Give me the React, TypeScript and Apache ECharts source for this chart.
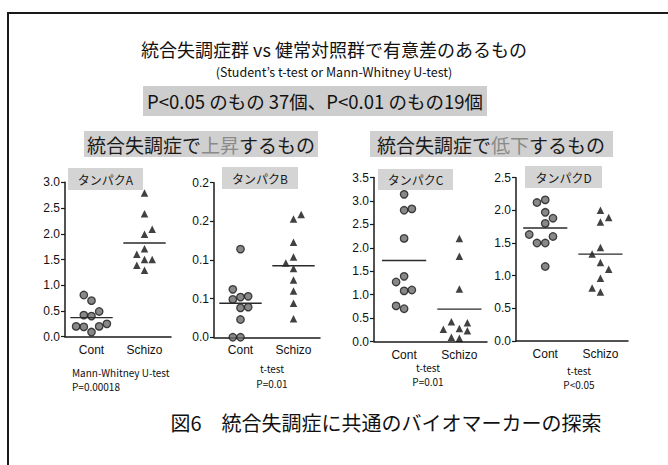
import React, { useEffect, useRef } from "react";
import * as echarts from "echarts";

// ---- data ----
const categories = ["Cont", "Schizo"];

const contA = [0.81, 0.70, 0.49, 0.42, 0.40, 0.20, 0.19, 0.09, 0.20, 0.25];
const contAJitter = [-0.145, 0, 0.145, -0.145, 0, -0.29, -0.145, 0, 0.145, 0.29];
const schizoA = [2.79, 2.39, 2.09, 1.99, 1.71, 1.60, 1.50, 1.50, 1.39, 1.29];
const schizoAJitter = [0, 0, 0.145, 0, 0, -0.145, 0, 0.145, -0.145, 0];
const meanA = [0.37, 1.82];
const yTicksA = ["0.0", "0.5", "1.0", "1.5", "2.0", "2.5", "3.0"];

const contB = [0.114, 0.062, 0.049, 0.052, 0.053, 0.038, 0.039, 0.023, 0.0, 0.0];
const contBJitter = [0, -0.145, -0.145, 0, 0.145, 0, 0.145, 0, -0.145, 0];
const schizoB = [0.159, 0.153, 0.123, 0.104, 0.096, 0.089, 0.074, 0.060, 0.044, 0.024];
const schizoBJitter = [0.145, 0, 0, 0, -0.145, 0, 0, 0, 0, 0];
const meanB = [0.044, 0.0926];
const yTicksB = ["0.0", "0.1", "0.1", "0.2", "0.2"];

const contC = [3.14, 2.80, 2.83, 2.20, 1.39, 1.27, 1.08, 1.10, 0.76, 0.70];
const contCJitter = [0, 0, 0.14, 0, 0, -0.145, 0, 0.14, -0.145, 0];
const schizoC = [2.20, 1.82, 1.12, 0.42, 0.40, 0.26, 0.28, 0.23, 0.09, 0.07];
const schizoCJitter = [0, 0, 0, -0.145, 0.145, -0.29, 0, 0.145, -0.145, 0];
const meanC = [1.73, 0.69];
const yTicksC = ["0.0", "0.5", "1.0", "1.5", "2.0", "2.5", "3.0", "3.5"];

const contD = [2.12, 2.16, 1.97, 1.88, 1.80, 1.63, 1.60, 1.50, 1.50, 1.14];
const contDJitter = [-0.15, 0, 0, 0.14, 0, -0.29, 0.14, -0.15, 0, 0];
const schizoD = [2.00, 1.89, 1.82, 1.43, 1.33, 1.20, 1.10, 0.96, 0.81, 0.75];
const schizoDJitter = [0, 0.15, 0, 0, -0.15, 0, 0.15, 0, -0.15, 0];
const meanD = [1.73, 1.33];
const yTicksD = ["0.0", "0.5", "1.0", "1.5", "2.0", "2.5"];

const yIntervals = [0.5, 0.05, 0.5, 0.5];
const proteinNames = ["タンパクA", "タンパクB", "タンパクC", "タンパクD"];
const testNames = ["Mann-Whitney U-test", "t-test", "t-test", "t-test"];
const pValues = ["P=0.00018", "P=0.01", "P=0.01", "P<0.05"];

const titleText = "統合失調症群 vs 健常対照群で有意差のあるもの";
const subtitleText = "(Student’s t-test or Mann-Whitney U-test)";
const countText = "P<0.05 のもの 37個、P<0.01 のもの19個";
const headingUp = ["統合失調症で", "上昇", "するもの"];
const headingDown = ["統合失調症で", "低下", "するもの"];
const footerText = "図6　統合失調症に共通のバイオマーカーの探索";

// ---- layout ----
const panelLayout = [
  { left: 65, top: 182.3, width: 106, height: 154.4, xMin: 0.5, xMax: 2.5 },
  { left: 214, top: 182.7, width: 106, height: 154.6, xMin: 0.5, xMax: 2.5 },
  { left: 374, top: 177.5, width: 113, height: 164, xMin: 0.455, xMax: 2.5 },
  { left: 516, top: 177.7, width: 112, height: 163.3, xMin: 0.47, xMax: 2.5 },
];
const labelBoxes = [
  { x: 68, y: 168, w: 75, h: 22 },
  { x: 222, y: 167, w: 76, h: 22 },
  { x: 378, y: 169, w: 75, h: 21 },
  { x: 525, y: 166, w: 77, h: 22 },
];
const testPos = [
  { x: 72, y1: 372, y2: 386, align: "left" },
  { x: 272, y1: 368, y2: 383, align: "center" },
  { x: 428, y1: 367, y2: 381, align: "center" },
  { x: 579, y1: 370, y2: 384, align: "center" },
];

const CJK = "'Noto Sans CJK JP', 'Noto Sans', sans-serif";
const LAT = "'Liberation Sans', Arial, sans-serif";
const MEAN_HALF = 0.4;

const panelData = [
  { c: contA, cj: contAJitter, s: schizoA, sj: schizoAJitter, m: meanA, t: yTicksA },
  { c: contB, cj: contBJitter, s: schizoB, sj: schizoBJitter, m: meanB, t: yTicksB },
  { c: contC, cj: contCJitter, s: schizoC, sj: schizoCJitter, m: meanC, t: yTicksC },
  { c: contD, cj: contDJitter, s: schizoD, sj: schizoDJitter, m: meanD, t: yTicksD },
];

export default function App() {
  const ref = useRef<HTMLDivElement>(null);

  useEffect(() => {
    if (!ref.current) return;
    const chart = echarts.init(ref.current, undefined, { renderer: "svg" });

    const grids: any[] = [];
    const xAxes: any[] = [];
    const yAxes: any[] = [];
    const series: any[] = [];

    panelData.forEach((p, i) => {
      const L = panelLayout[i];
      const interval = yIntervals[i];
      const max = (p.t.length - 1) * interval;
      grids.push({ left: L.left, top: L.top, width: L.width, height: L.height });
      xAxes.push({
        type: "value",
        gridIndex: i,
        min: L.xMin,
        max: L.xMax,
        axisLine: { show: true, onZero: false, lineStyle: { color: "#1a1a1a", width: 1.5 } },
        axisTick: { show: false },
        splitLine: { show: false },
        axisLabel: {
          customValues: [1, 2],
          formatter: (v: number) => categories[Math.round(v) - 1] ?? "",
          fontSize: 12,
          fontFamily: LAT,
          color: "#111",
          margin: 7,
        },
      });
      yAxes.push({
        type: "value",
        gridIndex: i,
        min: 0,
        max,
        interval,
        axisLine: { show: true, onZero: false, lineStyle: { color: "#1a1a1a", width: 1.5 } },
        axisTick: { show: true, length: 4, lineStyle: { color: "#1a1a1a", width: 1.2 } },
        splitLine: { show: false },
        axisLabel: {
          formatter: (v: number) => p.t[Math.round(v / interval)] ?? "",
          fontSize: 12,
          fontFamily: LAT,
          color: "#111",
          margin: 5,
        },
      });
      series.push({
        type: "scatter",
        xAxisIndex: i,
        yAxisIndex: i,
        symbol: "circle",
        symbolSize: 7.5,
        clip: false,
        itemStyle: { color: "#6a6a6a", borderColor: "#1a1a1a", borderWidth: 1.3 },
        data: p.c.map((v, k) => [1 + p.cj[k], v]),
      });
      series.push({
        type: "scatter",
        xAxisIndex: i,
        yAxisIndex: i,
        symbol: "triangle",
        symbolSize: 7.5,
        clip: false,
        itemStyle: { color: "#111" },
        data: p.s.map((v, k) => [2 + p.sj[k], v]),
      });
      p.m.forEach((mv, k) => {
        series.push({
          type: "line",
          xAxisIndex: i,
          yAxisIndex: i,
          symbol: "none",
          silent: true,
          lineStyle: { color: "#2a2a2a", width: 1.4 },
          data: [
            [k + 1 - MEAN_HALF, mv],
            [k + 1 + MEAN_HALF, mv],
          ],
        });
      });
    });

    const graphic: any[] = [
      { type: "line", shape: { x1: 7, y1: 13, x2: 668, y2: 13 }, style: { stroke: "#1a1a1a", lineWidth: 2 } },
      { type: "line", shape: { x1: 8, y1: 12, x2: 8, y2: 465 }, style: { stroke: "#1a1a1a", lineWidth: 2 } },
      {
        type: "text",
        x: 334,
        y: 49,
        style: { text: titleText, font: `18px ${CJK}`, fill: "#111", textAlign: "center", textVerticalAlign: "middle" },
      },
      {
        type: "text",
        x: 334,
        y: 71,
        style: { text: subtitleText, font: `12.5px ${CJK}`, fill: "#111", textAlign: "center", textVerticalAlign: "middle" },
      },
      { type: "rect", shape: { x: 143, y: 86, width: 344, height: 30 }, style: { fill: "#cdcdcd" } },
      {
        type: "text",
        x: 315,
        y: 101,
        style: { text: countText, font: `18.5px ${CJK}`, fill: "#111", textAlign: "center", textVerticalAlign: "middle" },
      },
      { type: "rect", shape: { x: 84, y: 131, width: 234, height: 26 }, style: { fill: "#d0d0d0" } },
      {
        type: "text",
        x: 201,
        y: 144,
        style: {
          text: `${headingUp[0]}{g|${headingUp[1]}}${headingUp[2]}`,
          font: `19px ${CJK}`,
          fill: "#1a1a1a",
          textAlign: "center",
          textVerticalAlign: "middle",
          rich: { g: { fill: "#8a8a8a", font: `19px ${CJK}` } },
        },
      },
      { type: "rect", shape: { x: 370, y: 131, width: 243, height: 26 }, style: { fill: "#d0d0d0" } },
      {
        type: "text",
        x: 491,
        y: 144,
        style: {
          text: `${headingDown[0]}{g|${headingDown[1]}}${headingDown[2]}`,
          font: `19px ${CJK}`,
          fill: "#1a1a1a",
          textAlign: "center",
          textVerticalAlign: "middle",
          rich: { g: { fill: "#8a8a8a", font: `19px ${CJK}` } },
        },
      },
      {
        type: "text",
        x: 386,
        y: 422,
        style: { text: footerText, font: `20px ${CJK}`, fill: "#111", textAlign: "center", textVerticalAlign: "middle" },
      },
    ];

    labelBoxes.forEach((b, i) => {
      graphic.push({ type: "rect", z: 10, shape: { x: b.x, y: b.y, width: b.w, height: b.h }, style: { fill: "#d4d4d4" } });
      graphic.push({
        type: "text",
        z: 11,
        x: b.x + b.w / 2,
        y: b.y + b.h / 2,
        style: { text: proteinNames[i], font: `12px ${CJK}`, fill: "#1a1a1a", textAlign: "center", textVerticalAlign: "middle" },
      });
    });

    testPos.forEach((t, i) => {
      graphic.push({
        type: "text",
        x: t.x,
        y: t.y1,
        style: { text: testNames[i], font: `10px ${CJK}`, fill: "#111", textAlign: t.align, textVerticalAlign: "middle", lineHeight: 11 },
      });
      graphic.push({
        type: "text",
        x: t.x,
        y: t.y2,
        style: { text: pValues[i], font: `10px ${CJK}`, fill: "#111", textAlign: t.align, textVerticalAlign: "middle", lineHeight: 11 },
      });
    });

    chart.setOption({
      animation: false,
      backgroundColor: "#ffffff",
      grid: grids,
      xAxis: xAxes,
      yAxis: yAxes,
      series,
      graphic,
    });

    return () => chart.dispose();
  }, []);

  return (
    <div
      ref={ref}
      style={{ position: "fixed", left: 0, top: 0, width: 668, height: 465, background: "#fff" }}
    />
  );
}
